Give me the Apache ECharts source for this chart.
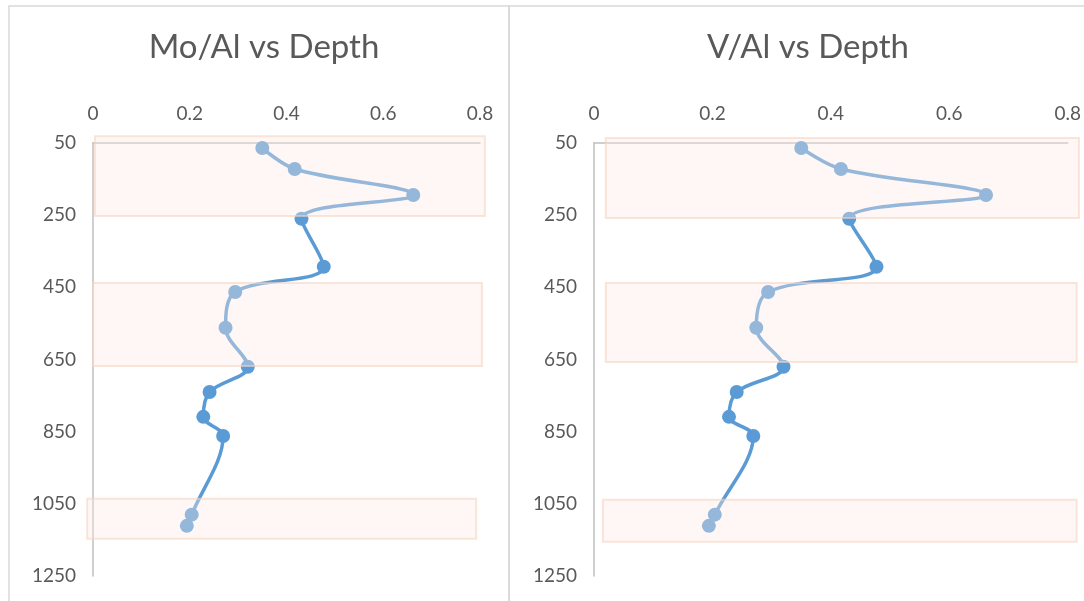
<!DOCTYPE html>
<html>
<head>
<meta charset="utf-8">
<script src="https://cdn.jsdelivr.net/npm/echarts@6/dist/echarts.min.js"></script>
<style>
  html, body { margin: 0; padding: 0; background: #fff; }
  #chart { width: 1084px; height: 601px; }
</style>
</head>
<body>
<div id="chart"></div>
<script>
// depth of each sample
const depth = [64, 122, 194, 260, 393, 463, 562, 670, 740, 809, 862, 1080, 1111];
const moAl = [0.350, 0.417, 0.662, 0.431, 0.477, 0.294, 0.274, 0.320, 0.241, 0.228, 0.269, 0.204, 0.194];
const vAl = [0.350, 0.417, 0.662, 0.431, 0.477, 0.294, 0.274, 0.320, 0.241, 0.228, 0.269, 0.204, 0.194];

const depthTicks = [50, 250, 450, 650, 850, 1050, 1250];
const ratioTicks = [0, 0.2, 0.4, 0.6, 0.8];

// shaded zones: [x from, x to, depth from, depth to]
const moBands = [[0.004, 0.810, 31, 252], [0.0, 0.804, 438, 668], [-0.012, 0.792, 1036, 1147]];
const vBands = [[0.020, 0.819, 36, 258], [0.020, 0.815, 438, 657], [0.015, 0.815, 1039, 1155]];

const textColor = '#595959';
const font = 'Lato, "Open Sans", sans-serif';

let myChart = echarts.init(document.getElementById('chart'));

function xAxisOf(idx) {
  return {
    gridIndex: idx,
    type: 'value',
    position: 'top',
    min: 0,
    max: 0.8,
    axisLine: { show: true, lineStyle: { color: '#bfbfbf', width: 1.5 } },
    axisTick: { show: false },
    splitLine: { show: false },
    axisLabel: {
      color: textColor, fontSize: 19, fontFamily: font, margin: 20,
      customValues: ratioTicks,
      formatter: function (v) { return String(v); }
    }
  };
}

function yAxisOf(idx) {
  return {
    gridIndex: idx,
    type: 'value',
    inverse: true,
    min: 50,
    max: 1250,
    axisLine: { show: true, lineStyle: { color: '#bfbfbf', width: 1.5 } },
    axisTick: { show: false },
    splitLine: { show: false },
    axisLabel: {
      color: textColor, fontSize: 19, fontFamily: font, margin: 17,
      customValues: depthTicks,
      formatter: function (v) { return String(v); }
    }
  };
}

function lineSeries(idx, values) {
  return {
    type: 'line',
    xAxisIndex: idx,
    yAxisIndex: idx,
    smooth: 0.35,
    symbol: 'circle',
    symbolSize: 14,
    z: 2,
    lineStyle: { color: '#5b9bd5', width: 3.5 },
    itemStyle: { color: '#5b9bd5' },
    data: values.map((v, i) => [v, depth[i]])
  };
}

function bandSeries(idx, bands) {
  return {
    type: 'custom',
    xAxisIndex: idx,
    yAxisIndex: idx,
    z: 5,
    silent: true,
    clip: false,
    renderItem: function (params, api) {
      let p0 = api.coord([api.value(0), api.value(2)]);
      let p1 = api.coord([api.value(1), api.value(3)]);
      return {
        type: 'rect',
        shape: { x: p0[0], y: p0[1], width: p1[0] - p0[0], height: p1[1] - p0[1] },
        style: {
          fill: 'rgba(252,232,226,0.36)',
          stroke: 'rgba(247,212,194,0.6)',
          lineWidth: 2
        }
      };
    },
    data: bands
  };
}

let option = {
  backgroundColor: '#fff',
  animation: false,
  title: [
    {
      text: 'Mo/Al vs Depth', left: 259, top: 26, textAlign: 'center',
      textStyle: { color: textColor, fontSize: 33, fontWeight: 'normal', fontFamily: font }
    },
    {
      text: 'V/Al vs Depth', left: 803, top: 26, textAlign: 'center',
      textStyle: { color: textColor, fontSize: 33, fontWeight: 'normal', fontFamily: font }
    }
  ],
  graphic: [
    { type: 'rect', shape: { x: 9, y: 6, width: 500, height: 610 }, style: { fill: 'none', stroke: '#d9d9d9', lineWidth: 1.5 }, silent: true },
    { type: 'rect', shape: { x: 509, y: 6, width: 600, height: 610 }, style: { fill: 'none', stroke: '#d9d9d9', lineWidth: 1.5 }, silent: true }
  ],
  grid: [
    { left: 93, top: 143, width: 387, height: 433 },
    { left: 594, top: 143, width: 474, height: 433 }
  ],
  xAxis: [xAxisOf(0), xAxisOf(1)],
  yAxis: [yAxisOf(0), yAxisOf(1)],
  series: [
    lineSeries(0, moAl),
    lineSeries(1, vAl),
    bandSeries(0, moBands),
    bandSeries(1, vBands)
  ]
};

myChart.setOption(option);

window.addEventListener('resize', function () {
  myChart.resize();
});
</script>
</body>
</html>
